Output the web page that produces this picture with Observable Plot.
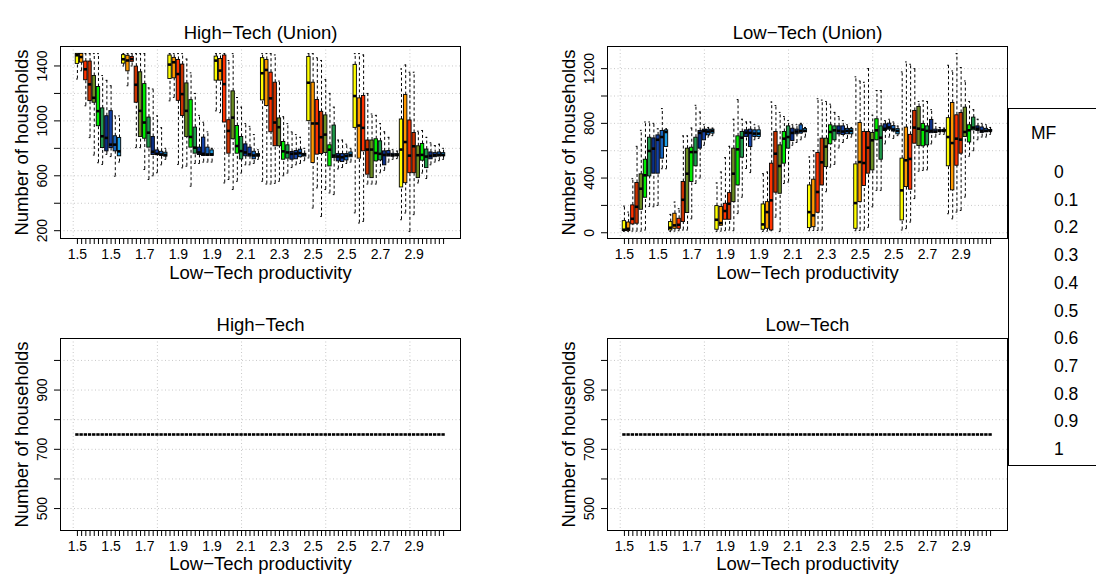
<!DOCTYPE html>
<html>
<head>
<meta charset="utf-8">
<script src="https://cdn.jsdelivr.net/npm/d3@7"></script>
<script src="https://cdn.jsdelivr.net/npm/@observablehq/plot@0.6"></script>
<style>
  body { margin: 0; background: #fff; width: 1096px; height: 579px; overflow: hidden; position: relative;
         font-family: "Liberation Sans", Arial, sans-serif; }
  .panel { position: absolute; }
  #legend { position: absolute; left: 1008px; top: 108px; width: 200px; height: 358px;
            border: 1px solid #000; background: #fff; box-sizing: border-box; font-size: 17.5px; color: #000; }
  #legend span { position: absolute; white-space: nowrap; line-height: 20px; }
</style>
</head>
<body>
<div id="tl" class="panel" style="left:0;top:0"></div>
<div id="tr" class="panel" style="left:547px;top:0"></div>
<div id="bl" class="panel" style="left:0;top:290px"></div>
<div id="br" class="panel" style="left:547px;top:290px"></div>
<div id="legend"></div>
<script>
// Low-Tech productivity groups and market-fraction (MF) levels inside each group
const productivity = [1.5, 1.7, 1.9, 2.1, 2.3, 2.5, 2.7, 2.9];
const mf = [0, 0.1, 0.2, 0.3, 0.4, 0.5, 0.6, 0.7, 0.8, 0.9, 1];
const mfColors = ["#ffff00", "#ff9900", "#ff3300", "#cc3300", "#6b8e23", "#00ee00",
                  "#1f9a4a", "#0b2f87", "#1342a8", "#1565c0", "#1e9fe6"];

// Box statistics per productivity group, one [lower whisker, Q1, median, Q3, upper whisker] per MF level
const highTechUnion = [
  [[1305,1415,1478,1488,1490],[1365,1424,1465,1488,1490],[1110,1296,1376,1432,1490],[878,1144,1266,1432,1490],[751,1132,1168,1327,1490],[695,961,1071,1247,1490],[683,802,888,1091,1330],[756,778,876,1034,1295],[740,802,827,1071,1256],[597,778,827,888,1036],[700,742,778,876,1036]],
  [[1400,1417,1449,1479,1490],[1256,1361,1440,1474,1490],[1400,1430,1450,1466,1490],[805,1132,1263,1395,1490],[805,883,1073,1354,1490],[646,870,988,1268,1490],[573,805,914,1024,1240],[600,751,775,883,1232],[622,751,760,785,1036],[680,745,755,775,950],[720,740,752,768,800]],
  [[1146,1305,1410,1476,1490],[1171,1310,1427,1459,1490],[683,1146,1341,1444,1490],[658,1036,1195,1410,1490],[670,883,1073,1273,1450],[524,805,883,1151,1350],[690,761,805,951,1200],[690,751,770,805,1040],[700,744,760,878,990],[700,744,755,805,920],[700,745,756,785,800]],
  [[1073,1293,1439,1468,1490],[1060,1293,1366,1451,1490],[548,988,1268,1476,1490],[573,761,927,1005,1440],[500,866,1024,1215,1490],[560,761,817,963,1170],[620,719,780,883,1100],[680,742,770,829,980],[680,740,756,805,960],[690,720,748,775,900],[720,740,750,758,790]],
  [[560,1149,1347,1457,1490],[540,1108,1371,1444,1490],[540,917,1164,1351,1490],[545,815,988,1278,1480],[560,815,954,1018,1290],[600,717,778,846,1030],[620,725,770,822,980],[660,717,760,773,920],[680,720,762,780,900],[690,735,765,790,880],[710,740,755,760,800]],
  [[730,998,1278,1466,1490],[365,693,981,1278,1490],[512,754,981,1152,1460],[304,758,881,1066,1440],[500,766,900,1040,1300],[475,668,790,822,1200],[463,729,747,966,1100],[650,705,740,758,860],[660,700,735,758,860],[690,712,745,758,830],[700,735,752,770,800]],
  [[330,949,1181,1408,1490],[256,725,966,1164,1490],[268,778,949,1181,1480],[540,608,791,857,1200],[540,583,791,857,1050],[540,705,766,866,1040],[622,712,760,851,980],[640,676,752,778,920],[700,740,755,780,880],[720,740,750,760,790],[725,742,752,758,780]],
  [[280,515,791,1010,1378],[329,546,846,1188,1407],[195,619,747,1003,1354],[317,619,815,912,1354],[548,583,750,815,925],[620,710,752,832,930],[580,656,740,791,880],[680,720,745,770,840],[700,735,750,765,820],[710,740,752,770,830],[720,742,752,765,800]]
];

const lowTechUnion = [
  [[10,12,22,85,195],[10,12,29,75,151],[12,61,102,200,395],[12,66,190,364,632],[12,168,322,427,749],[20,256,420,534,810],[193,412,598,695,810],[190,432,615,690,800],[200,432,680,712,760],[468,542,700,744,908],[468,627,737,749,760]],
  [[10,17,37,78,134],[12,29,54,139,224],[15,29,58,102,176],[20,78,241,371,708],[20,144,432,615,708],[102,371,590,622,766],[360,486,590,695,932],[400,615,730,744,883],[640,676,744,754,790],[700,712,740,754,770],[710,725,745,754,765]],
  [[10,22,95,195,364],[12,51,71,188,444],[15,95,159,212,549],[20,95,212,290,632],[15,224,432,615,830],[140,346,610,705,974],[260,549,695,737,830],[470,700,732,749,810],[440,627,730,754,810],[680,700,725,749,790],[690,700,725,749,780]],
  [[10,22,61,207,432],[12,29,151,224,444],[15,17,237,505,956],[114,293,578,737,930],[10,285,488,639,880],[360,505,688,737,850],[371,615,700,778,820],[640,671,730,761,790],[660,720,740,754,790],[680,725,745,786,800],[700,735,745,758,770]],
  [[15,34,151,346,554],[17,41,127,388,600],[17,146,298,583,980],[20,346,515,688,970],[300,480,630,688,960],[480,647,737,786,940],[500,676,749,778,880],[620,720,745,778,850],[660,715,740,778,820],[690,720,745,760,790],[700,720,745,758,770]],
  [[15,29,217,500,1140],[17,224,517,803,1110],[20,342,510,737,1100],[40,432,622,737,1200],[190,456,676,730,860],[310,676,749,830,1040],[310,534,695,778,1040],[650,744,760,793,820],[700,754,770,798,830],[690,740,755,780,810],[710,720,745,758,780]],
  [[20,90,310,542,1176],[30,334,530,769,1249],[78,315,540,716,1232],[250,651,769,891,1200],[450,635,761,920,960],[456,632,754,796,964],[460,639,745,778,960],[650,728,745,825,900],[700,730,740,754,800],[720,738,745,750,770],[720,740,745,752,765]],
  [[139,486,700,838,1225],[102,310,656,949,1183],[151,490,688,859,1310],[163,578,681,876,1208],[261,700,737,915,1110],[560,660,749,786,960],[600,749,769,842,900],[680,744,760,778,830],[700,730,745,770,800],[700,735,745,760,790],[720,740,745,752,770]]
];

// Without the union every run ends at the same count: one value per box, no spread
const highTechFlat = [
  [750,750,750,750,750,750,750,750,750,750,750],
  [750,750,750,750,750,750,750,750,750,750,750],
  [750,750,750,750,750,750,750,750,750,750,750],
  [750,750,750,750,750,750,750,750,750,750,750],
  [750,750,750,750,750,750,750,750,750,750,750],
  [750,750,750,750,750,750,750,750,750,750,750],
  [750,750,750,750,750,750,750,750,750,750,750],
  [750,750,750,750,750,750,750,750,750,750,750]
];
const lowTechFlat = [
  [750,750,750,750,750,750,750,750,750,750,750],
  [750,750,750,750,750,750,750,750,750,750,750],
  [750,750,750,750,750,750,750,750,750,750,750],
  [750,750,750,750,750,750,750,750,750,750,750],
  [750,750,750,750,750,750,750,750,750,750,750],
  [750,750,750,750,750,750,750,750,750,750,750],
  [750,750,750,750,750,750,750,750,750,750,750],
  [750,750,750,750,750,750,750,750,750,750,750]
];

const yAxisTitle = "Number of households";
const xAxisTitle = "Low\u2212Tech productivity";

function toRows(groups) {
  const rows = [];
  groups.forEach((group, g) => group.forEach((s, k) => {
    const v = Array.isArray(s) ? s : [s, s, s, s, s];
    rows.push({i: g * mf.length + k + 1, g, k, lo: v[0], q1: v[1], med: v[2], q3: v[3], hi: v[4]});
  }));
  return rows;
}

// Same axis limits as base R: 4% padding, zero-width ranges widened by 40%
function extendRange(lo, hi) {
  if (lo === hi) { lo = lo * 0.6; hi = hi * 1.4; }
  const d = (hi - lo) * 0.04;
  return [lo - d, hi + d];
}

function boxPanel({groups, title, yTicks, yLabels, height, marginTop, marginBottom, titleDy, xLabelDy}) {
  const rows = toRows(groups);
  const n = rows.length;
  const xDomain = extendRange(0.5, n + 0.5);
  const yDomain = extendRange(d3.min(rows, d => d.lo), d3.max(rows, d => d.hi));
  const half = 0.4, staple = 0.2;
  const dotted = {stroke: "#c8c8c8", strokeOpacity: 1, strokeDasharray: "1,2.5"};
  const dashed = {stroke: "#000", strokeDasharray: "3,2.5", strokeWidth: 1};
  return Plot.plot({
    width: 500, height, marginLeft: 60, marginRight: 40, marginTop, marginBottom,
    x: {domain: xDomain, label: null},
    y: {domain: yDomain, label: null},
    style: {fontFamily: "'Liberation Sans', Arial, sans-serif", fontSize: "14px", color: "#000", background: "transparent", overflow: "visible"},
    marks: [
      Plot.gridY(yTicks, dotted),
      Plot.gridX(d3.range(0, n, 20), dotted),
      Plot.ruleX(rows, {x: "i", y1: "lo", y2: "q1", ...dashed}),
      Plot.ruleX(rows, {x: "i", y1: "q3", y2: "hi", ...dashed}),
      Plot.ruleY(rows, {y: "lo", x1: d => d.i - staple, x2: d => d.i + staple, stroke: "#000"}),
      Plot.ruleY(rows, {y: "hi", x1: d => d.i - staple, x2: d => d.i + staple, stroke: "#000"}),
      Plot.rect(rows, {x1: d => d.i - half, x2: d => d.i + half, y1: "q1", y2: "q3",
                       fill: d => mfColors[d.k], stroke: "#000", strokeWidth: 0.9}),
      Plot.ruleY(rows, {y: "med", x1: d => d.i - half, x2: d => d.i + half, stroke: "#000", strokeWidth: 2.6}),
      Plot.axisY(yTicks, {tickFormat: d => yLabels.includes(d) ? String(d) : "", tickRotate: -90,
                          tickSize: 6, tickPadding: 8, label: null, fontSize: 14}),
      Plot.axisX(rows.map(d => d.i), {
        tickFormat: i => (i - 1) % 8 === 0 ? String(productivity[Math.floor((i - 1) / mf.length)]) : "",
        tickSize: 6, tickPadding: 5, label: null, fontSize: 14}),
      Plot.frame({stroke: "#000", strokeWidth: 1}),
      Plot.text([title], {text: d => d, frameAnchor: "top", dy: titleDy, fontSize: 18.5}),
      Plot.text([xAxisTitle], {text: d => d, frameAnchor: "bottom", dy: xLabelDy, fontSize: 18.5}),
      Plot.text([yAxisTitle], {text: d => d, frameAnchor: "left", textAnchor: "middle", dx: -38, rotate: -90, fontSize: 18.5})
    ]
  });
}

const topOpts = {height: 290, marginTop: 46, marginBottom: 52, titleDy: -21, xLabelDy: 40};
const bottomOpts = {height: 289, marginTop: 48, marginBottom: 49, titleDy: -21, xLabelDy: 39};

document.getElementById("tl").append(boxPanel({groups: highTechUnion, title: "High\u2212Tech (Union)",
  yTicks: [200, 400, 600, 800, 1000, 1200, 1400], yLabels: [200, 600, 1000, 1400], ...topOpts}));
document.getElementById("tr").append(boxPanel({groups: lowTechUnion, title: "Low\u2212Tech (Union)",
  yTicks: [0, 200, 400, 600, 800, 1000, 1200], yLabels: [0, 400, 800, 1200], ...topOpts}));
document.getElementById("bl").append(boxPanel({groups: highTechFlat, title: "High\u2212Tech",
  yTicks: [500, 600, 700, 800, 900, 1000], yLabels: [500, 700, 900], ...bottomOpts}));
document.getElementById("br").append(boxPanel({groups: lowTechFlat, title: "Low\u2212Tech",
  yTicks: [500, 600, 700, 800, 900, 1000], yLabels: [500, 700, 900], ...bottomOpts}));

// MF legend, listed top to bottom
const legend = document.getElementById("legend");
const head = document.createElement("span");
head.textContent = "MF";
head.style.left = "22px"; head.style.top = "14px";
legend.append(head);
mf.forEach((m, k) => {
  const s = document.createElement("span");
  s.textContent = String(m);
  s.style.left = "45px";
  s.style.top = (53 + k * 27.7) + "px";
  legend.append(s);
});
</script>
</body>
</html>
